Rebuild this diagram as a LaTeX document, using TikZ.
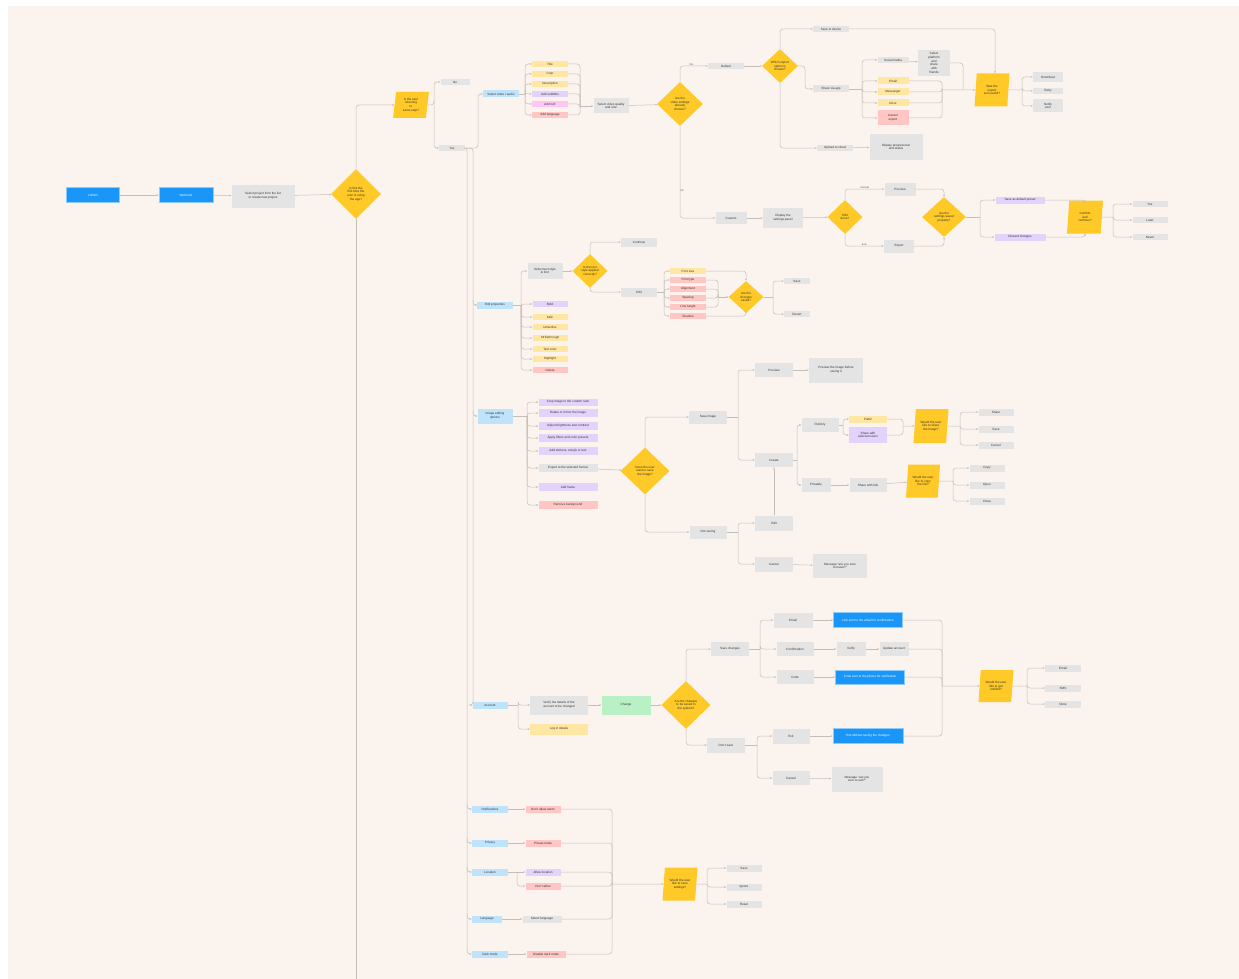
\documentclass[tikz,border=0pt]{standalone}
\usepackage{fontspec}
\setmainfont{Liberation Sans}
\usetikzlibrary{shapes.geometric,arrows.meta}
\definecolor{bgc}{HTML}{FBF3EE}
\definecolor{lc}{HTML}{C4BEB9}
\definecolor{gboxc}{HTML}{E4E4E4}
\definecolor{bluec}{HTML}{1A96F8}
\definecolor{bluer}{HTML}{8CCBFB}
\definecolor{lblue}{HTML}{BEE3FB}
\definecolor{ydia}{HTML}{FFC928}
\definecolor{yel}{HTML}{FFE7A3}
\definecolor{pur}{HTML}{E3D2FB}
\definecolor{mag}{HTML}{FFC5F5}
\definecolor{redc}{HTML}{FFC6C3}
\definecolor{grn}{HTML}{B9F0C5}
\definecolor{txt}{HTML}{333333}
\tikzset{
  base/.style={font=\fontsize{3.1}{3.7}\selectfont, text=txt, align=center, inner sep=0.5pt},
  sz/.style 2 args={minimum width=#1pt, minimum height=#2pt},
  gbox/.style={base, rectangle, fill=gboxc},
  bbox/.style={base, rectangle, fill=bluec, draw=bluer, line width=0.7pt, text=white},
  lbox/.style={base, rectangle, fill=lblue},
  ybox/.style={base, rectangle, fill=yel},
  pbox/.style={base, rectangle, fill=pur},
  mbox/.style={base, rectangle, fill=mag},
  rbox/.style={base, rectangle, fill=redc},
  grbox/.style={base, rectangle, fill=grn},
  dia/.style={base, diamond, fill=ydia, inner sep=0pt, aspect=1},
  para/.style={base, trapezium, trapezium left angle=78, trapezium right angle=102,
               trapezium stretches body, fill=ydia, inner sep=0.5pt},
  conn/.style={draw=lc, line width=0.5pt, rounded corners=3pt, -{Stealth[length=2.2pt,width=1.8pt]}},
  ln/.style={draw=lc, line width=0.5pt, rounded corners=3pt},
  lbl/.style={font=\fontsize{2.6}{3}\selectfont, text=txt!80, inner sep=0.3pt},
}
\begin{document}
\begin{tikzpicture}[x=1pt,y=-1pt]
\fill[white] (0,0) rectangle (1239,979);
\fill[bgc] (8,6) rectangle (1239,979);
\useasboundingbox (0,0) rectangle (1239,979);

% ---------- main row ----------
\node[bbox,sz={53}{15}] (start) at (93,195) {LOGIN};
\node[bbox,sz={54}{15}] (welcome) at (186,195) {Welcome};
\node[gbox,sz={63}{23}] (sel) at (263,196) {Select project from the list\\or create new project};
\node[dia,sz={50}{50}] (d0) at (356,194) {Is this the\\first time the\\user is using\\the app?};
\node[para,sz={36}{26}] (p0) at (411,105) {Is the user\\returning\\to\\same step?};
\node[gbox,sz={29}{6}] (no) at (455,82) {No};
\node[gbox,sz={26}{6}] (yes) at (452,148) {Yes};

\draw[conn] (start) -- (welcome);
\draw[conn] (welcome) -- (sel);
\draw[conn] (sel) -- (d0);
\draw[conn] (d0.north) |- (p0.west);
\draw[ln] (d0.south) -- (356,979);
\draw[conn] (p0.east) -- (434,105) |- (no.west);
\draw[conn] (434,101) |- (yes.west);

% trunks
\coordinate (tA) at (467,160);
\coordinate (tB) at (473,160);
\draw[ln] (yes.east) -| (tA) -- (467,950);
\draw[ln] (yes.east) -| (tB) -- (473,701);

% ---------- video branch ----------
\node[lbox,sz={36}{7}] (b1) at (501,94) {Select video / audio};
\node[ybox,sz={36}{6}] (c1) at (550,64) {Title};
\node[ybox,sz={36}{6}] (c2) at (550,74) {Crop};
\node[ybox,sz={36}{6}] (c3) at (550,84) {Description};
\node[pbox,sz={36}{6}] (c4) at (550,94) {Add subtitles};
\node[mbox,sz={36}{6}] (c5) at (550,104) {Add GIF};
\node[rbox,sz={36}{6}] (c6) at (550,115) {Add language};
\node[gbox,sz={35}{15}] (g1) at (611,106) {Select video quality\\and size};
\node[dia,sz={46}{44}] (d1) at (680,104) {Are the\\video settings\\already\\chosen?};
\node[gbox,sz={36}{6}] (yes2) at (726,66) {Default};
\node[dia,sz={36}{34}] (d2) at (780,66) {Which export\\option is\\chosen?};
\node[gbox,sz={36}{6}] (g2) at (831,29) {Save to device};
\node[gbox,sz={36}{7}] (g3) at (831,89) {Share via app};
\node[gbox,sz={31}{6}] (g4) at (893,60) {Social media};
\node[gbox,sz={32}{26}] (g5) at (934,63) {Select\\platform\\and\\share\\with\\friends};
\node[ybox,sz={31}{7}] (y1) at (893,81) {Email};
\node[ybox,sz={31}{7}] (y2) at (893,92) {Messenger};
\node[ybox,sz={31}{7}] (y3) at (893,103) {Drive};
\node[rbox,sz={31}{15}] (r1) at (893,118) {Cancel\\export};
\node[para,sz={35}{33}] (p1) at (992,90) {Was the\\export\\successful?};
\node[gbox,sz={30}{10}] (h1) at (1048,77) {Download};
\node[gbox,sz={30}{6}] (h2) at (1048,91) {Retry};
\node[gbox,sz={30}{13}] (h3) at (1048,106) {Notify\\user};
\node[gbox,sz={36}{6}] (g6) at (835,148) {Upload to cloud};
\node[gbox,sz={53}{26}] (g7) at (896,147) {Display progress bar\\and status};
\node[gbox,sz={31}{12}] (g8) at (731,218) {Custom};
\node[gbox,sz={40}{20}] (g9) at (783,218) {Display the\\settings panel};
\node[dia,sz={35}{34}] (d3) at (845,217) {Edit\\done?};
\node[gbox,sz={31}{13}] (g10) at (900,189) {Preview};
\node[gbox,sz={30}{13}] (g11) at (899,246) {Export};
\node[dia,sz={44}{40}] (d4) at (944,217) {Are the\\settings saved\\properly?};
\node[pbox,sz={49}{7}] (u1) at (1020,200) {Save as default preset};
\node[pbox,sz={51}{7}] (u2) at (1020,237) {Discard changes};
\node[para,sz={36}{33}] (p2) at (1085,217) {Confirm\\and\\continue?};
\node[gbox,sz={35}{6}] (i1) at (1150,204) {Yes};
\node[gbox,sz={35}{6}] (i2) at (1150,220) {Later};
\node[gbox,sz={35}{6}] (i3) at (1150,237) {Never};

\draw[conn] (yes.east) -- (478,148) |- (b1.west);
\draw[ln] (b1.east) -- (525,94);
\foreach \n in {c1,c2,c3,c4,c5,c6} {\draw[conn] (525,94) |- (\n.west);}
\foreach \n in {c1,c2,c3,c4,c5,c6} {\draw[ln] (\n.east) -| (580,106);}
\draw[conn] (580,106) -- (g1.west);
\draw[conn] (g1) -- (d1);
\draw[conn] (d1.north) |- (yes2.west) node[lbl, pos=0.7, above] {Yes};
\draw[conn] (yes2) -- (d2);
\draw[conn] (d2.north) |- (g2.west);
\draw[conn] (g2.east) -| ([xshift=3pt]p1.north);
\draw[conn] (d2.east) -- (805,66) |- (g3.west);
\draw[ln] (g3.east) -- (862,89);
\foreach \n in {g4,y1,y2,y3,r1} {\draw[conn] (862,89) |- (\n.west);}
\draw[conn] (g4) -- (g5);
\foreach \n in {y1,y2,y3,r1} {\draw[ln] (\n.east) -| (942,90);}
\draw[ln] (g5.east) -| (963,90);
\draw[conn] (942,90) -- (p1.west);
\draw[ln] (p1.east) -- (1022,90);
\foreach \n in {h1,h2,h3} {\draw[conn] (1022,90) |- (\n.west);}
\draw[conn] (d2.south) |- (g6.west);
\draw[conn] (g6) -- (g7);
\draw[conn] (d1.south) |- (g8.west) node[lbl, pos=0.35, right] {No};
\draw[conn] (g8) -- (g9);
\draw[conn] (g9) -- (d3);
\draw[conn] (d3.north) |- (g10.west) node[lbl, pos=0.75, above] {manual};
\draw[conn] (d3.south) |- (g11.west) node[lbl, pos=0.75, above] {auto};
\draw[conn] (g10.east) -| (d4.north);
\draw[conn] (g11.east) -| (d4.south);
\draw[ln] (d4.east) -- (980,217);
\foreach \n in {u1,u2} {\draw[conn] (980,217) |- (\n.west);}
\draw[conn] (u1.east) -| (p2.north);
\draw[conn] (u2.east) -| (p2.south);
\draw[ln] (p2.east) -- (1113,217);
\foreach \n in {i1,i2,i3} {\draw[conn] (1113,217) |- (\n.west);}

% ---------- text properties ----------
\node[lbox,sz={36}{7}] (b2) at (495,305) {Edit properties};
\node[gbox,sz={35}{16}] (k0) at (545,271) {Select text style\\\& font};
\node[pbox,sz={35}{6}] (k1) at (550,304) {Bold};
\node[ybox,sz={35}{6}] (k2) at (550,317) {Italic};
\node[ybox,sz={35}{6}] (k3) at (550,327) {Underline};
\node[ybox,sz={35}{6}] (k4) at (550,338) {Strikethrough};
\node[ybox,sz={35}{6}] (k5) at (550,349) {Text color};
\node[ybox,sz={35}{6}] (k6) at (550,359) {Highlight};
\node[rbox,sz={35}{6}] (k7) at (550,370) {Delete};
\node[dia,sz={35}{34}] (d5) at (590,271) {Is the text\\style applied\\correctly?};
\node[gbox,sz={36}{9}] (m1) at (639,242) {Continue};
\node[gbox,sz={36}{9}] (m2) at (639,292) {Edit};
\node[ybox,sz={36}{6}] (n1) at (688,271) {Font size};
\node[rbox,sz={36}{6}] (n2) at (688,280) {Font type};
\node[rbox,sz={36}{6}] (n3) at (688,289) {Alignment};
\node[rbox,sz={36}{6}] (n4) at (688,298) {Spacing};
\node[rbox,sz={36}{6}] (n5) at (688,307) {Line height};
\node[rbox,sz={36}{6}] (n6) at (688,316) {Shadow};
\node[dia,sz={35}{32}] (d6) at (746,297) {Are the\\changes\\saved?};
\node[gbox,sz={26}{6}] (o1) at (797,281) {Save};
\node[gbox,sz={26}{6}] (o2) at (797,314) {Revert};

\draw[conn] (473,300) |- (b2.west);
\draw[ln] (b2.east) -- (521,305);
\foreach \n in {k0,k1,k2,k3,k4,k5,k6,k7} {\draw[conn] (521,305) |- (\n.west);}
\draw[conn] (k0) -- (d5);
\draw[conn] (d5.north) |- (m1.west);
\draw[conn] (d5.south) |- (m2.west);
\draw[ln] (m2.east) -- (664,292);
\foreach \n in {n1,n2,n3,n4,n5,n6} {\draw[conn] (664,292) |- (\n.west);}
\draw[conn] (n1.east) -| (d6.north);
\draw[conn] (n6.east) -| (d6.south);
\foreach \n in {n2,n3,n4,n5} {\draw[ln] (\n.east) -| (718,297);}
\draw[conn] (718,297) -- (d6.west);
\draw[ln] (d6.east) -- (773,297);
\foreach \n in {o1,o2} {\draw[conn] (773,297) |- (\n.west);}

% ---------- image editing ----------
\node[lbox,sz={35}{15}] (b3) at (495,416) {Image editing\\options};
\node[pbox,sz={59}{7}] (q1) at (568,402) {Crop image to the custom ratio};
\node[pbox,sz={59}{8}] (q2) at (568,413) {Rotate or mirror the image};
\node[pbox,sz={59}{8}] (q3) at (568,426) {Adjust brightness and contrast};
\node[pbox,sz={59}{8}] (q4) at (568,438) {Apply filters and color presets};
\node[pbox,sz={59}{8}] (q5) at (568,451) {Add stickers, emojis or text};
\node[gbox,sz={59}{8}] (q6) at (568,468) {Export to the selected format};
\node[pbox,sz={59}{8}] (q7) at (568,487) {Add frame};
\node[rbox,sz={59}{8}] (q8) at (568,505) {Remove background};
\node[dia,sz={49}{47}] (d7) at (645,471) {Does the user\\want to save\\the image?};
\node[gbox,sz={38}{13}] (s1) at (708,417) {Save image};
\node[gbox,sz={38}{14}] (s2) at (774,370) {Preview};
\node[gbox,sz={54}{25}] (s3) at (836,370) {Preview the image before\\saving it};
\node[gbox,sz={38}{14}] (s4) at (774,460) {Create};
\node[gbox,sz={37}{14}] (s5) at (820,425) {Publicly};
\node[gbox,sz={29}{14}] (s6) at (816,485) {Privately};
\node[ybox,sz={38}{7}] (t1) at (868,419) {Public};
\node[pbox,sz={38}{16}] (t2) at (868,435) {Share with\\selected users};
\node[para,sz={35}{34}] (p3) at (931,426) {Would the user\\like to share\\the image?};
\node[gbox,sz={35}{7}] (v1) at (996,412) {Share};
\node[gbox,sz={35}{7}] (v2) at (996,429) {Save};
\node[gbox,sz={35}{7}] (v3) at (996,445) {Cancel};
\node[gbox,sz={37}{14}] (s7) at (868,485) {Share with link};
\node[para,sz={34}{33}] (p4) at (923,481) {Would the user\\like to copy\\the link?};
\node[gbox,sz={35}{7}] (w1) at (987,468) {Copy};
\node[gbox,sz={35}{7}] (w2) at (987,485) {Open};
\node[gbox,sz={35}{7}] (w3) at (987,501) {Close};
\node[gbox,sz={37}{13}] (s8) at (708,532) {Not saving};
\node[gbox,sz={38}{15}] (s9) at (774,523) {Edit};
\node[gbox,sz={38}{15}] (s10) at (774,564) {Cancel};
\node[gbox,sz={54}{24}] (s11) at (840,566) {Message ``are you sure\\to leave?''};

\draw[conn] (473,411) |- (b3.west);
\draw[ln] (b3.east) -- (527,416);
\foreach \n in {q1,q2,q3,q4,q5,q6,q7,q8} {\draw[conn] (527,416) |- (\n.west);}
\draw[conn] (q6) -- (d7);
\draw[conn] (d7.north) |- (s1.west);
\draw[ln] (s1.east) -- (738,417);
\foreach \n in {s2,s4} {\draw[conn] (738,417) |- (\n.west);}
\draw[conn] (s2) -- (s3);
\draw[ln] (s4.east) -- (797,460);
\foreach \n in {s5,s6} {\draw[conn] (797,460) |- (\n.west);}
\draw[ln] (s5.east) -- (843,425);
\foreach \n in {t1,t2} {\draw[conn] (843,425) |- (\n.west);}
\foreach \n in {t1,t2} {\draw[ln] (\n.east) -| (903,426);}
\draw[conn] (903,426) -- (p3.west);
\draw[ln] (p3.east) -- (960,426);
\foreach \n in {v1,v2,v3} {\draw[conn] (960,426) |- (\n.west);}
\draw[conn] (s6) -- (s7);
\draw[conn] (s7) -- (p4);
\draw[ln] (p4.east) -- (953,481);
\foreach \n in {w1,w2,w3} {\draw[conn] (953,481) |- (\n.west);}
\draw[conn] (d7.south) |- (s8.west);
\draw[ln] (s8.east) -- (738,532);
\foreach \n in {s9,s10} {\draw[conn] (738,532) |- (\n.west);}
\draw[conn] (s9.north) -- (s4.south);
\draw[conn] (s10) -- (s11);

% ---------- account ----------
\node[lbox,sz={35}{7}] (b4) at (490,705) {Account};
\node[gbox,sz={58}{19}] (e1) at (559,705) {Verify the details of the\\account to be changed};
\node[ybox,sz={58}{11}] (e2) at (559,729) {Log in details};
\node[grbox,sz={49}{19}] (e3) at (626,705) {Change};
\node[dia,sz={49}{48}] (d8) at (686,705) {Are the changes\\to be saved in\\the system?};
\node[gbox,sz={38}{14}] (f1) at (730,649) {Save changes};
\node[gbox,sz={39}{15}] (f2) at (793,620) {Email};
\node[gbox,sz={37}{14}] (f3) at (795,649) {Confirmation};
\node[gbox,sz={37}{14}] (f4) at (795,677) {Code};
\node[bbox,sz={69}{15}] (F1) at (868,620) {Link sent to the email for confirmation};
\node[gbox,sz={29}{14}] (f5) at (851,649) {Verify};
\node[gbox,sz={29}{14}] (f6) at (894,649) {Update account};
\node[bbox,sz={69}{14}] (F2) at (870,677) {Code sent to the phone for verification};
\node[gbox,sz={38}{15}] (f7) at (726,745) {Don't save};
\node[gbox,sz={37}{15}] (f8) at (791,736) {Exit};
\node[bbox,sz={70}{15}] (F3) at (868,736) {Exit without saving the changes};
\node[gbox,sz={37}{14}] (f9) at (791,778) {Cancel};
\node[gbox,sz={51}{25}] (f10) at (857,779) {Message ``are you\\sure to exit?''};
\node[para,sz={35}{32}] (p5) at (996,686) {Would the user\\like to get\\notified?};
\node[gbox,sz={36}{7}] (z1) at (1063,668) {Email};
\node[gbox,sz={36}{7}] (z2) at (1063,688) {SMS};
\node[gbox,sz={36}{7}] (z3) at (1063,704) {None};

\draw[conn] (473,700) |- (b4.west);
\draw[ln] (b4.east) -- (518,705);
\foreach \n in {e1,e2} {\draw[conn] (518,705) |- (\n.west);}
\draw[conn] (e1) -- (e3);
\draw[conn] (e3) -- (d8);
\draw[conn] (d8.north) |- (f1.west);
\draw[ln] (f1.east) -- (760,649);
\foreach \n in {f2,f3,f4} {\draw[conn] (760,649) |- (\n.west);}
\draw[conn] (f2) -- (F1);
\draw[conn] (f3) -- (f5);
\draw[conn] (f5) -- (f6);
\draw[conn] (f4) -- (F2);
\draw[conn] (d8.south) |- (f7.west);
\draw[ln] (f7.east) -- (757,745);
\foreach \n in {f8,f9} {\draw[conn] (757,745) |- (\n.west);}
\draw[conn] (f8) -- (F3);
\draw[conn] (f9) -- (f10);
\foreach \n in {F1,f6,F2,F3} {\draw[ln] (\n.east) -| (942,686);}
\draw[conn] (942,686) -- (p5.west);
\draw[ln] (p5.east) -- (1027,686);
\foreach \n in {z1,z2,z3} {\draw[conn] (1027,686) |- (\n.west);}

% ---------- settings ----------
\node[lbox,sz={36}{7}] (a1) at (490,809) {Notifications};
\node[rbox,sz={35}{7}] (a1r) at (543,809) {Don't allow alerts};
\node[lbox,sz={36}{7}] (a2) at (490,843) {Privacy};
\node[rbox,sz={35}{7}] (a2r) at (543,843) {Private mode};
\node[lbox,sz={36}{7}] (a3) at (490,872) {Location};
\node[pbox,sz={35}{7}] (a3p) at (543,872) {Allow location};
\node[rbox,sz={35}{7}] (a3r) at (543,886) {Don't allow};
\node[lbox,sz={30}{7}] (a4) at (487,919) {Language};
\node[gbox,sz={39}{7}] (a4g) at (542,919) {Select language};
\node[lbox,sz={36}{7}] (a5) at (490,954) {Dark mode};
\node[rbox,sz={39}{7}] (a5r) at (546,954) {Disable dark mode};
\node[para,sz={35}{33}] (p6) at (680,884) {Would the user\\like to save\\settings?};
\node[gbox,sz={35}{7}] (x1) at (744,868) {Save};
\node[gbox,sz={35}{7}] (x2) at (744,887) {Ignore};
\node[gbox,sz={35}{7}] (x3) at (744,904) {Reset};

\foreach \n/\yy in {a1/804,a2/838,a3/867,a4/914,a5/949} {\draw[conn] (467,\yy) |- (\n.west);}
\draw[conn] (a1) -- (a1r);
\draw[conn] (a2) -- (a2r);
\draw[conn] (a3) -- (a3p);
\draw[conn] (517,872) |- (a3r.west);
\draw[conn] (a4) -- (a4g);
\draw[conn] (a5) -- (a5r);
\foreach \n in {a1r,a2r,a3p,a3r,a4g,a5r} {\draw[ln] (\n.east) -| (612,884);}
\draw[conn] (612,884) -- (p6.west);
\draw[ln] (p6.east) -- (707,884);
\foreach \n in {x1,x2,x3} {\draw[conn] (707,884) |- (\n.west);}
\end{tikzpicture}
\end{document}
